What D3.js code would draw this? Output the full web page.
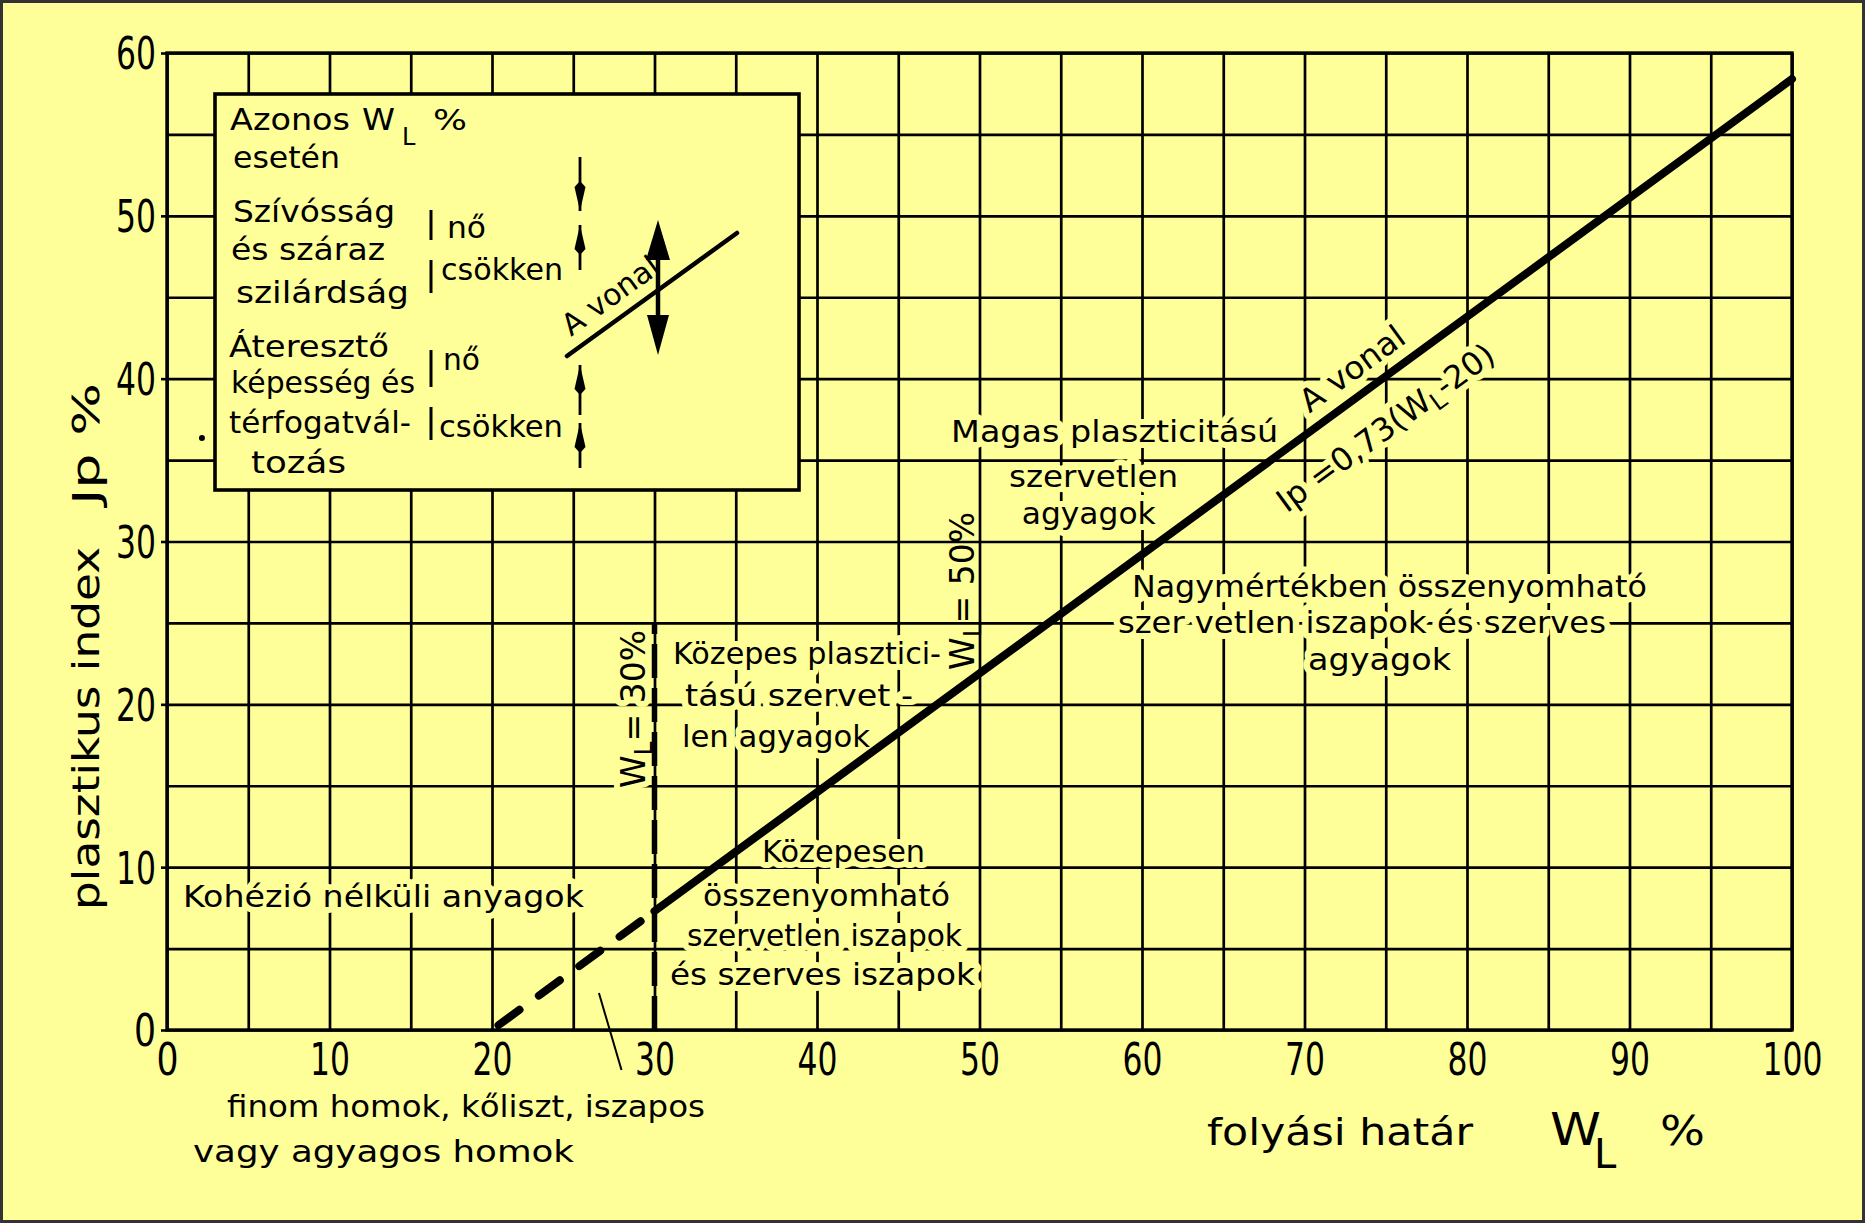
<!DOCTYPE html>
<html>
<head>
<meta charset="utf-8">
<script src="https://cdn.jsdelivr.net/npm/d3@7"></script>
<style>
html, body { margin: 0; padding: 0; background: #ffff99; }
svg { display: block; }
text { font-family: "DejaVu Sans", "Noto Sans", sans-serif; fill: #000; }
.halo { stroke: #ffff99; stroke-width: 12; stroke-linejoin: round; paint-order: stroke; }
</style>
</head>
<body>
<svg id="chart" width="1865" height="1223"></svg>
<script>
// ---------------- DATA ----------------
const xTickValues = [0, 10, 20, 30, 40, 50, 60, 70, 80, 90, 100];
const yTickValues = [0, 10, 20, 30, 40, 50, 60];
const xGridValues = [0, 5, 10, 15, 20, 25, 30, 35, 40, 45, 50, 55, 60, 65, 70, 75, 80, 85, 90, 95, 100];
const yGridValues = [0, 5, 10, 15, 20, 25, 30, 35, 40, 45, 50, 55, 60];

// A-line  Ip = 0.73 (WL - 20)
const aLineDashed = [{ wl: 20.4, ip: 0.3 }, { wl: 30, ip: 7.3 }];
const aLineSolid = [{ wl: 30, ip: 7.3 }, { wl: 100, ip: 58.4 }];
// WL = 30 % boundary
const wl30Line = [{ wl: 30, ip: 0 }, { wl: 30, ip: 25 }];

const regionTexts = [
  "Magas plaszticitású", "szervetlen", "agyagok",
  "Nagymértékben összenyomható", "szer vetlen iszapok és szerves", "agyagok",
  "Közepes plasztici-", "tású szervet -", "len agyagok",
  "Közepesen", "összenyomható", "szervetlen iszapok", "és szerves iszapok",
  "Kohézió nélküli anyagok",
  "finom homok, kőliszt, iszapos", "vagy agyagos homok"
];
const boxTexts = ["Azonos", "esetén", "Szívósság", "és száraz", "szilárdság",
  "Áteresztő", "képesség és", "térfogatvál-", "tozás"];
const boxChangeTexts = ["nő", "csökken", "nő", "csökken"];

// ---------------- LAYOUT ----------------
const W = 1865, H = 1223;
const svg = d3.select("#chart");
const x = d3.scaleLinear().domain([0, 100]).range([167, 1792]);
const y = d3.scaleLinear().domain([0, 60]).range([1030, 53]);
const plotW = x(100) - x(0), plotH = y(0) - y(60);

svg.append("rect").attr("width", W).attr("height", H).attr("fill", "#ffff99");

// grid (vertical)
svg.append("g").attr("transform", `translate(0,${y(0)})`)
  .call(d3.axisBottom(x).tickValues(xGridValues).tickSize(-plotH).tickFormat(""))
  .call(g => g.select(".domain").remove())
  .selectAll("line").attr("stroke", "#000").attr("stroke-width", 2.7);
// grid (horizontal)
svg.append("g").attr("transform", `translate(${x(0)},0)`)
  .call(d3.axisLeft(y).tickValues(yGridValues).tickSize(-plotW).tickFormat(""))
  .call(g => g.select(".domain").remove())
  .selectAll("line").attr("stroke", "#000").attr("stroke-width", 2.7);

// plot frame
svg.append("rect").attr("x", x(0)).attr("y", y(60)).attr("width", plotW).attr("height", plotH)
  .attr("fill", "none").attr("stroke", "#000").attr("stroke-width", 3.4);

// x axis labels
const gX = svg.append("g").attr("transform", `translate(0,${y(0)})`)
  .call(d3.axisBottom(x).tickValues(xTickValues).tickSize(0).tickPadding(0));
gX.select(".domain").remove();
gX.attr("font-family", null).attr("font-size", null);
gX.selectAll("text").attr("y", 45).attr("dy", null)
  .attr("font-size", 44)
  .attr("textLength", d => String(d).length * 20 + (String(d).length > 1 ? 0 : 2))
  .attr("lengthAdjust", "spacingAndGlyphs");

// y axis labels + short ticks
const gY = svg.append("g").attr("transform", `translate(${x(0)},0)`)
  .call(d3.axisLeft(y).tickValues(yTickValues).tickSize(6).tickPadding(4));
gY.select(".domain").remove();
gY.attr("font-family", null).attr("font-size", null);
gY.selectAll("line").attr("stroke", "#000").attr("stroke-width", 2.6);
gY.selectAll("text").attr("x", -11).attr("dy", "0.36em")
  .attr("font-size", 44)
  .attr("textLength", d => String(d).length * 20 + (String(d).length > 1 ? 0 : 2))
  .attr("lengthAdjust", "spacingAndGlyphs");

// ---------------- LEGEND BOX ----------------
const box = svg.append("g");
box.append("rect").attr("x", 215).attr("y", 94).attr("width", 584).attr("height", 396)
  .attr("fill", "#ffff99").attr("stroke", "#000").attr("stroke-width", 3.6);

const boxLayout = [
  [230, 130, 120], [233, 168, 107], [233, 222, 162], [231, 260, 154], [236, 303, 173],
  [229, 357, 160], [231, 393, 184], [229, 433, 182], [251, 473, 95]
];
boxTexts.forEach((t, i) => {
  const [bx, by, bw] = boxLayout[i];
  box.append("text").attr("x", bx).attr("y", by).attr("font-size", 30)
    .attr("textLength", bw).attr("lengthAdjust", "spacingAndGlyphs").text(t);
});
// "W_L %" after "Azonos"
box.append("text").attr("x", 362).attr("y", 130).attr("font-size", 30)
  .attr("textLength", 33).attr("lengthAdjust", "spacingAndGlyphs").text("W");
box.append("text").attr("x", 402).attr("y", 145).attr("font-size", 24).text("L");
box.append("text").attr("x", 433).attr("y", 130).attr("font-size", 28)
  .attr("textLength", 34).attr("lengthAdjust", "spacingAndGlyphs").text("%");

const changeLayout = [[447, 238, 39], [441, 280, 122], [443, 370, 37], [439, 437, 124]];
boxChangeTexts.forEach((t, i) => {
  const [bx, by, bw] = changeLayout[i];
  box.append("text").attr("x", bx).attr("y", by).attr("font-size", 30)
    .attr("textLength", bw).attr("lengthAdjust", "spacingAndGlyphs").text(t);
});
[[210, 240], [260, 293], [350, 387], [407, 440]].forEach(([a, b]) => {
  box.append("line").attr("x1", 431).attr("x2", 431).attr("y1", a).attr("y2", b)
    .attr("stroke", "#000").attr("stroke-width", 3);
});

// small arrows column
function smallArrow(x0, yStart, yEnd, headAtEnd) {
  box.append("line").attr("x1", x0).attr("x2", x0).attr("y1", yStart).attr("y2", yEnd)
    .attr("stroke", "#000").attr("stroke-width", 2.8);
  const tip = headAtEnd ? yEnd : yStart;
  const dir = headAtEnd ? -1 : 1;
  box.append("path")
    .attr("d", `M${x0},${tip} L${x0 - 5.5},${tip + dir * 24} L${x0},${tip + dir * 30} L${x0 + 5.5},${tip + dir * 24} Z`)
    .attr("fill", "#000");
}
smallArrow(580, 157, 211, true);
smallArrow(580, 225, 270, false);
smallArrow(580, 365, 415, false);
smallArrow(580, 423, 468, false);

// A-line sketch in box with double arrow
box.append("line").attr("x1", 567).attr("y1", 356).attr("x2", 737).attr("y2", 233)
  .attr("stroke", "#000").attr("stroke-width", 4.5).attr("stroke-linecap", "round");
box.append("line").attr("x1", 658).attr("x2", 658).attr("y1", 240).attr("y2", 340)
  .attr("stroke", "#000").attr("stroke-width", 4.5);
box.append("path").attr("d", "M658,220 L670,260 L646,260 Z").attr("fill", "#000");
box.append("path").attr("d", "M658,355 L669,315 L647,315 Z").attr("fill", "#000");
box.append("text").attr("transform", "translate(571,337) rotate(-36)")
  .attr("font-size", 30).attr("textLength", 112).attr("lengthAdjust", "spacingAndGlyphs")
  .text("A vonal");

// ---------------- REGION TEXTS ----------------
const regionLayout = [
  [48.25, 36.12, 327], [51.82, 33.35, 169], [52.6, 31.08, 134],
  [59.38, 26.6, 515], [58.52, 24.39, 488], [70.22, 22.11, 143],
  [31.14, 22.48, 268], [31.88, 19.9, 228], [31.69, 17.38, 188],
  [36.62, 10.32, 163], [32.98, 7.62, 247], [32.0, 5.16, 275], [30.95, 2.76, 305],
  [0.98, 7.56, 401],
  [3.69, -5.34, 478], [1.6, -8.11, 381]
];
const textLayer = svg.append("g");
regionTexts.forEach((t, i) => {
  const [wl, ip, tw] = regionLayout[i];
  textLayer.append("text").attr("class", "halo")
    .attr("x", x(wl)).attr("y", y(ip)).attr("font-size", 30)
    .attr("textLength", tw).attr("lengthAdjust", "spacingAndGlyphs").text(t);
});

// leader line from "finom homok..." label
svg.append("line").attr("x1", x(26.58)).attr("y1", y(2.27)).attr("x2", x(27.97)).attr("y2", y(-2.46))
  .attr("stroke", "#000").attr("stroke-width", 2);

// WL = 30% and WL = 50% vertical labels
function wlLabel(px, py, val, halo) {
  const t = svg.append("text").attr("transform", `translate(${px},${py}) rotate(-90)`)
    .attr("font-size", 33);
  if (halo) t.attr("class", "halo");
  t.append("tspan").text("W");
  t.append("tspan").attr("font-size", 25).attr("dy", 7).text("L");
  t.append("tspan").attr("dy", -7).text("= " + val + "%");
}
wlLabel(x(29.4), y(14.86), 30, true);
wlLabel(x(49.65), y(22.11), 50, false);

// ---------------- A-LINE ----------------
const line = d3.line().x(d => x(d.wl)).y(d => y(d.ip));
const ang = Math.atan2(y(aLineSolid[1].ip) - y(aLineSolid[0].ip), x(aLineSolid[1].wl) - x(aLineSolid[0].wl)) * 180 / Math.PI;

svg.append("text").attr("class", "halo")
  .attr("transform", `translate(${x(70.3)},${y(36.5) - 22}) rotate(${ang})`)
  .attr("font-size", 32).attr("textLength", 122).attr("lengthAdjust", "spacingAndGlyphs")
  .text("A vonal");
const ipT = svg.append("text").attr("class", "halo")
  .attr("transform", `translate(${x(68.6) + 5},${y(35.4) + 60}) rotate(${ang})`)
  .attr("font-size", 32);
ipT.append("tspan").text("Ip =0,73(W");
ipT.append("tspan").attr("font-size", 25).attr("dy", 7).text("L");
ipT.append("tspan").attr("dy", -7).text("-20)");

svg.append("path").datum(wl30Line).attr("d", line)
  .attr("fill", "none").attr("stroke", "#000").attr("stroke-width", 5.5)
  .attr("stroke-dasharray", "34,10");
svg.append("path").datum(aLineDashed).attr("d", line)
  .attr("fill", "none").attr("stroke", "#000").attr("stroke-width", 8)
  .attr("stroke-linecap", "round").attr("stroke-dasharray", "26,24");
svg.append("path").datum(aLineSolid).attr("d", line)
  .attr("fill", "none").attr("stroke", "#000").attr("stroke-width", 8)
  .attr("stroke-linecap", "round");

// stray dot near y axis
svg.append("circle").attr("cx", x(2.15)).attr("cy", y(36.36)).attr("r", 3).attr("fill", "#000");

// ---------------- AXIS TITLES ----------------
svg.append("text").attr("x", 1207).attr("y", 1145).attr("font-size", 38)
  .attr("textLength", 266).attr("lengthAdjust", "spacingAndGlyphs").text("folyási határ");
svg.append("text").attr("x", 1550).attr("y", 1145).attr("font-size", 44)
  .attr("textLength", 51).attr("lengthAdjust", "spacingAndGlyphs").text("W");
svg.append("text").attr("x", 1594).attr("y", 1168).attr("font-size", 40).text("L");
svg.append("text").attr("x", 1660).attr("y", 1145).attr("font-size", 40)
  .attr("textLength", 45).attr("lengthAdjust", "spacingAndGlyphs").text("%");

svg.append("text").attr("transform", "translate(99,910) rotate(-90)").attr("font-size", 38)
  .attr("textLength", 363).attr("lengthAdjust", "spacingAndGlyphs").text("plasztikus index");
svg.append("text").attr("transform", "translate(99,505) rotate(-90)").attr("font-size", 38)
  .attr("textLength", 122).attr("lengthAdjust", "spacingAndGlyphs").text("Jp %");

// outer frame
svg.append("rect").attr("x", 1.5).attr("y", 1.5).attr("width", W - 3).attr("height", H - 3)
  .attr("fill", "none").attr("stroke", "#333").attr("stroke-width", 3);
</script>
</body>
</html>
